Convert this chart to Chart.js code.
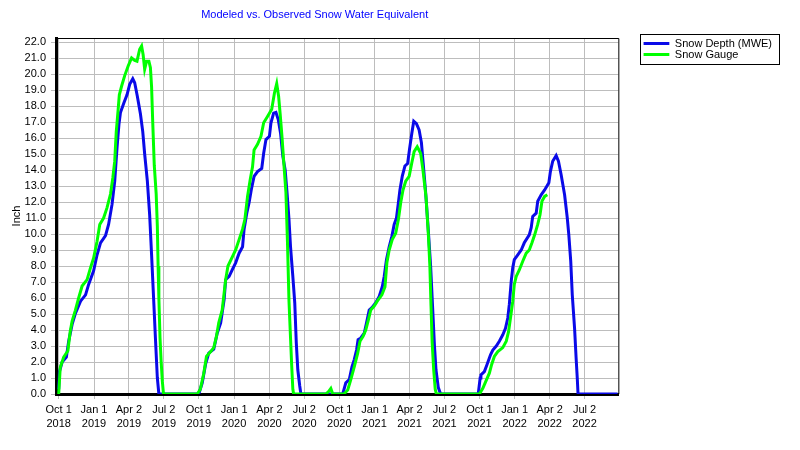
<!DOCTYPE html>
<html>
<head>
<meta charset="utf-8">
<script src="https://cdn.jsdelivr.net/npm/chart.js@4.4.1/dist/chart.umd.min.js"></script>
<style>
  html, body { margin: 0; padding: 0; background: #fff; }
</style>
</head>
<body>
<canvas id="chart" width="800" height="450"></canvas>
<script>
// Modeled vs. observed SWE, inches
const titleText = 'Modeled vs. Observed Snow Water Equivalent';
const axisTitle = 'Inch';

const depthDates = [
  '2018-10-01','2018-10-03','2018-10-10','2018-10-21','2018-10-27','2018-11-05','2018-11-13','2018-11-27','2018-12-10','2018-12-18','2018-12-31',
  '2019-01-09','2019-01-18','2019-01-31','2019-02-08','2019-02-17','2019-02-24','2019-03-02','2019-03-07','2019-03-11','2019-03-20','2019-03-28',
  '2019-04-04','2019-04-12','2019-04-17','2019-04-24','2019-05-02','2019-05-08','2019-05-13','2019-05-20','2019-05-26','2019-05-31',
  '2019-06-06','2019-06-10','2019-06-15','2019-06-19',
  '2019-10-01','2019-10-10','2019-10-19','2019-10-27','2019-11-09','2019-11-18','2019-11-27','2019-12-06','2019-12-10','2019-12-19','2019-12-28',
  '2020-01-05','2020-01-14','2020-01-23','2020-01-27','2020-02-03','2020-02-09','2020-02-15','2020-02-22','2020-03-02','2020-03-13','2020-03-18','2020-03-24',
  '2020-04-02','2020-04-06','2020-04-13','2020-04-19','2020-04-25','2020-05-01','2020-05-07','2020-05-13','2020-05-18','2020-05-23','2020-05-27',
  '2020-06-02','2020-06-07','2020-06-11','2020-06-15','2020-06-20','2020-06-23',
  '2020-10-10','2020-10-18','2020-10-27','2020-11-03','2020-11-09','2020-11-15','2020-11-19','2020-11-26','2020-12-05','2020-12-11','2020-12-18','2020-12-25',
  '2021-01-04','2021-01-13','2021-01-21','2021-01-26','2021-02-01','2021-02-08','2021-02-15','2021-02-21','2021-02-27','2021-03-04','2021-03-08','2021-03-14','2021-03-21','2021-03-28',
  '2021-04-02','2021-04-08','2021-04-13','2021-04-20','2021-04-27','2021-05-03','2021-05-08','2021-05-14','2021-05-21','2021-05-27',
  '2021-06-01','2021-06-06','2021-06-10','2021-06-16','2021-06-22',
  '2021-09-28','2021-10-03','2021-10-05','2021-10-14','2021-10-21','2021-10-30','2021-11-05','2021-11-14','2021-11-22','2021-12-01','2021-12-08','2021-12-14','2021-12-18','2021-12-23','2021-12-27','2021-12-31',
  '2022-01-09','2022-01-18','2022-01-26','2022-02-08','2022-02-13','2022-02-17','2022-02-26','2022-03-02','2022-03-11','2022-03-20','2022-03-31',
  '2022-04-04','2022-04-10','2022-04-19','2022-04-25','2022-05-02','2022-05-11','2022-05-18','2022-05-22','2022-05-27','2022-05-31',
  '2022-06-06','2022-06-10','2022-06-13','2022-06-15','2022-09-26'
];
const depthValues = [
  0.3, 1.4, 2.0, 2.3, 3.3, 4.35, 5.0, 5.8, 6.2, 6.85, 7.7,
  8.7, 9.45, 9.9, 10.6, 11.85, 13.3, 15.4, 16.85, 17.6, 18.2, 18.7,
  19.35, 19.7, 19.45, 18.6, 17.5, 16.4, 15.0, 13.3, 11.2, 8.7,
  5.6, 3.5, 1.0, 0,
  0, 0.7, 1.9, 2.55, 2.8, 3.8, 4.45, 5.9, 7.15, 7.35, 7.8,
  8.2, 8.8, 9.2, 10.3, 11.3, 11.95, 12.8, 13.6, 13.9, 14.1, 15.05, 15.9,
  16.1, 16.95, 17.55, 17.6, 17.15, 16.3, 14.85, 14.0, 12.55, 10.9, 9.2,
  7.35, 5.7, 3.2, 1.5, 0.5, 0,
  0, 0.7, 0.9, 1.7, 2.15, 2.75, 3.4, 3.5, 3.8, 4.45, 5.25, 5.4,
  5.7, 6.1, 6.7, 7.35, 8.4, 9.2, 9.85, 10.6, 11.0, 11.95, 12.75, 13.6, 14.25, 14.4,
  15.3, 16.3, 17.05, 16.9, 16.5, 15.7, 14.3, 12.6, 10.2, 8.0,
  5.5, 3.0, 1.5, 0.4, 0,
  0, 1.0, 1.2, 1.4, 1.85, 2.45, 2.75, 3.0, 3.3, 3.7, 4.1, 4.75, 5.6, 7.05, 7.9, 8.4,
  8.7, 9.0, 9.45, 9.95, 10.4, 11.1, 11.3, 12.05, 12.45, 12.75, 13.2,
  13.9, 14.55, 14.9, 14.55, 13.7, 12.45, 11.0, 9.95, 8.3, 6.2,
  4.1, 2.25, 1.0, 0, 0
];

const gaugeDates = [
  '2018-10-01','2018-10-05','2018-10-14','2018-10-25','2018-10-31','2018-11-05','2018-11-13','2018-11-22','2018-12-01','2018-12-14','2018-12-23','2018-12-31',
  '2019-01-09','2019-01-16','2019-01-26','2019-02-04','2019-02-13','2019-02-19','2019-02-24','2019-02-28','2019-03-05','2019-03-08','2019-03-14','2019-03-22','2019-03-31',
  '2019-04-09','2019-04-17','2019-04-23','2019-04-30','2019-05-05','2019-05-09','2019-05-13','2019-05-18','2019-05-24','2019-05-28','2019-05-31',
  '2019-06-03','2019-06-07','2019-06-12','2019-06-15','2019-06-17','2019-06-19','2019-06-22','2019-06-25','2019-06-28','2019-07-01',
  '2019-09-27','2019-10-05','2019-10-14','2019-10-21','2019-11-01','2019-11-09','2019-11-16','2019-11-22','2019-12-01','2019-12-05','2019-12-10','2019-12-16','2019-12-28',
  '2020-01-05','2020-01-14','2020-01-23','2020-01-29','2020-02-05','2020-02-12','2020-02-18','2020-02-22','2020-03-02','2020-03-11','2020-03-18','2020-03-28',
  '2020-04-08','2020-04-15','2020-04-21','2020-04-26','2020-04-30','2020-05-05','2020-05-09','2020-05-15','2020-05-19','2020-05-23','2020-05-27','2020-05-30',
  '2020-06-02','2020-06-04','2020-08-27','2020-09-03','2020-09-09','2020-09-14',
  '2020-10-13','2020-10-23','2020-10-31','2020-11-09','2020-11-18','2020-11-24','2020-12-02','2020-12-09','2020-12-16','2020-12-22','2020-12-31',
  '2021-01-08','2021-01-20','2021-01-28','2021-02-02','2021-02-08','2021-02-16','2021-02-25','2021-03-04','2021-03-10','2021-03-16','2021-03-23',
  '2021-04-01','2021-04-08','2021-04-14','2021-04-22','2021-05-01','2021-05-07','2021-05-15','2021-05-21','2021-05-25','2021-05-28','2021-05-31',
  '2021-06-04','2021-06-08','2021-06-11',
  '2021-10-01','2021-10-10','2021-10-18','2021-10-27','2021-11-02','2021-11-09','2021-11-18','2021-12-01','2021-12-10','2021-12-16','2021-12-21','2021-12-27','2021-12-31',
  '2022-01-05','2022-01-13','2022-01-22','2022-01-31','2022-02-08','2022-02-15','2022-02-22','2022-03-02','2022-03-08','2022-03-13','2022-03-20','2022-03-27'
];
const gaugeValues = [
  0, 1.65, 2.3, 2.7, 3.9, 4.55, 5.2, 6.0, 6.75, 7.15, 7.9, 8.5,
  9.55, 10.6, 11.0, 11.65, 12.5, 13.5, 14.55, 16.4, 17.8, 18.7, 19.25, 19.9, 20.5,
  21.0, 20.85, 20.8, 21.55, 21.75, 21.2, 20.3, 20.8, 20.8, 20.4, 19.2,
  17.0, 14.3, 12.5, 10.5, 8.0, 6.0, 3.5, 2.0, 0.8, 0,
  0, 0.3, 1.3, 2.35, 2.65, 2.9, 3.6, 4.45, 5.25, 6.1, 7.15, 8.0, 8.6,
  9.0, 9.65, 10.3, 10.9, 12.35, 13.4, 14.2, 15.25, 15.6, 16.1, 16.95, 17.35,
  17.8, 18.8, 19.4, 18.6, 17.5, 16.0, 14.6, 12.6, 9.5, 5.8, 3.5, 1.8,
  0.3, 0, 0, 0.15, 0.35, 0,
  0, 0.25, 0.9, 1.7, 2.55, 3.3, 3.6, 4.0, 4.65, 5.25, 5.5,
  5.8, 6.2, 6.7, 8.2, 9.0, 9.65, 10.05, 10.9, 11.95, 12.75, 13.3,
  13.6, 14.45, 15.15, 15.45, 15.05, 14.0, 12.3, 10.0, 8.0, 5.5, 3.2,
  1.5, 0.3, 0,
  0, 0.35, 0.8, 1.3, 1.85, 2.35, 2.65, 2.9, 3.3, 3.9, 4.75, 5.8, 6.85,
  7.35, 7.75, 8.3, 8.8, 9.0, 9.45, 9.95, 10.6, 11.2, 12.05, 12.35, 12.45
];

const tickDates = [
  '2018-10-01','2019-01-01','2019-04-02','2019-07-02',
  '2019-10-01','2020-01-01','2020-04-02','2020-07-02',
  '2020-10-01','2021-01-01','2021-04-02','2021-07-02',
  '2021-10-01','2022-01-01','2022-04-02','2022-07-02'
];
const monthNames = ['Jan','Feb','Mar','Apr','May','Jun','Jul','Aug','Sep','Oct','Nov','Dec'];
const xStart = '2018-09-24';
const xEnd = '2022-09-28';

const DAY = 86400000;
function toDay(s) {
    const [y, m, d] = s.split('-').map(Number);
    return Date.UTC(y, m - 1, d) / DAY;
}

function series(dates, values) {
    return dates.map((d, i) => ({ x: toDay(d), y: values[i] }));
}

const gridColor = '#bdbdbd';

const framePlugin = {
    id: 'frame',
    beforeDatasetsDraw(chart) {
        const ctx = chart.ctx;
        const a = chart.chartArea;
        ctx.save();
        ctx.strokeStyle = '#000';
        ctx.lineWidth = 1;
        ctx.beginPath();
        ctx.moveTo(a.left, a.top + 0.5);
        ctx.lineTo(a.right + 0.5, a.top + 0.5);
        ctx.lineTo(a.right + 0.5, a.bottom);
        ctx.stroke();
        ctx.restore();
    },
    afterDraw(chart) {
        const ctx = chart.ctx;
        ctx.save();
        // title, centred over the part left of the legend
        ctx.font = '11px "Liberation Sans", Arial, sans-serif';
        ctx.fillStyle = '#0000ff';
        ctx.textAlign = 'center';
        ctx.textBaseline = 'middle';
        ctx.fillText(titleText, (chart.legend.left - 14) / 2, 14.5);

        // box round the legend
        const boxes = chart.legend.legendHitBoxes;
        if (boxes.length) {
            const left = Math.min(...boxes.map(b => b.left));
            const top = Math.min(...boxes.map(b => b.top));
            const right = Math.max(...boxes.map(b => b.left + b.width));
            const bottom = Math.max(...boxes.map(b => b.top + b.height));
            ctx.strokeStyle = '#000';
            ctx.lineWidth = 1;
            ctx.strokeRect(Math.round(left) - 2.5, Math.round(top) - 3.5, Math.round(right - left) + 10, Math.round(bottom - top) + 8);
        }
        ctx.restore();
    }
};

Chart.defaults.font.family = '"Liberation Sans", Arial, sans-serif';
Chart.defaults.font.size = 11;
Chart.defaults.color = '#000';

const ctx = document.getElementById('chart').getContext('2d');
const chart = new Chart(ctx, {
    type: 'line',
    data: {
        datasets: [{
            label: 'Snow Depth (MWE)',
            data: series(depthDates, depthValues),
            borderColor: '#0a0ae8',
            backgroundColor: '#0a0ae8',
            borderWidth: 3,
            pointRadius: 0,
            tension: 0,
            order: 1,
        }, {
            label: 'Snow Gauge',
            data: series(gaugeDates, gaugeValues),
            borderColor: '#00ff00',
            backgroundColor: '#00ff00',
            borderWidth: 3,
            pointRadius: 0,
            tension: 0,
            order: 0,
        }]
    },
    options: {
        responsive: false,
        animation: false,
        events: [],
        layout: {
            padding: { top: 38, right: 28, bottom: 0, left: 0 }
        },
        scales: {
            x: {
                type: 'linear',
                min: toDay(xStart),
                max: toDay(xEnd),
                afterBuildTicks: function(scale) {
                    scale.ticks = tickDates.map(d => ({ value: toDay(d) }));
                },
                afterFit: function(scale) {
                    scale.height = 56;
                },
                grid: {
                    color: gridColor,
                    tickColor: gridColor,
                    tickLength: 5,
                },
                border: { color: '#000', width: 3 },
                ticks: {
                    autoSkip: false,
                    maxRotation: 0,
                    padding: 4,
                    font: { size: 11, lineHeight: 1.3 },
                    callback: function(value) {
                        const dt = new Date(value * DAY);
                        return [monthNames[dt.getUTCMonth()] + ' ' + dt.getUTCDate(), String(dt.getUTCFullYear())];
                    }
                }
            },
            y: {
                min: 0,
                max: 22.25,
                afterFit: function(scale) {
                    scale.width = 56;
                },
                grid: {
                    color: gridColor,
                    tickColor: gridColor,
                    tickLength: 5,
                },
                border: { color: '#000', width: 3 },
                title: {
                    display: true,
                    text: axisTitle,
                    padding: { top: 10, bottom: 0 },
                    font: { size: 11 }
                },
                ticks: {
                    stepSize: 1,
                    autoSkip: false,
                    includeBounds: false,
                    padding: 5,
                    callback: function(value) {
                        return value.toFixed(1);
                    }
                }
            },
            spacer: {
                type: 'linear',
                position: 'right',
                grid: { display: false },
                border: { display: false },
                ticks: { display: false },
                afterFit: function(scale) {
                    scale.width = 25;
                }
            }
        },
        plugins: {
            title: { display: false },
            tooltip: { enabled: false },
            legend: {
                display: true,
                position: 'right',
                align: 'start',
                fullSize: false,
                labels: {
                    usePointStyle: true,
                    pointStyle: 'line',
                    pointStyleWidth: 26,
                    padding: 0,
                    color: '#000',
                    font: { size: 11 },
                    sort: (a, b) => a.datasetIndex - b.datasetIndex
                }
            }
        }
    },
    plugins: [framePlugin]
});
</script>
</body>
</html>
